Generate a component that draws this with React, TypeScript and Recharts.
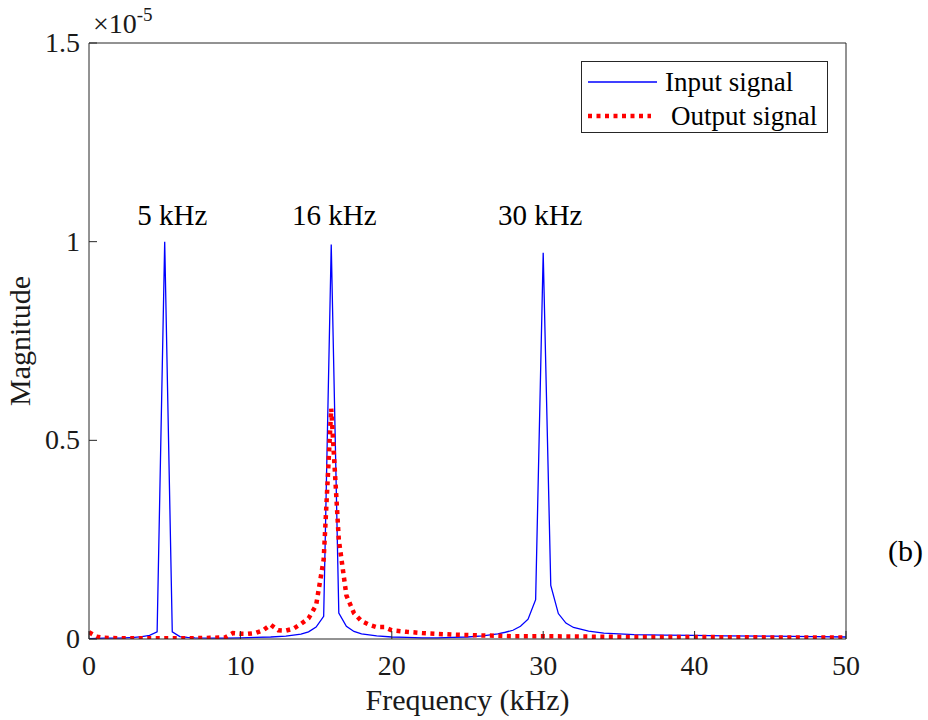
import { createContext, useContext, useState } from "react";
import { createPortal } from "react-dom";
import { LineChart, Line, XAxis, YAxis, ReferenceDot } from "recharts";

// magnitude values are in units of 1e-5
const inputFreq = [
  0, 1, 2, 3, 3.5, 4, 4.5, 5, 5.5, 6, 6.5, 7, 8, 9, 10, 11, 12, 13, 14, 14.5,
  15, 15.5, 16, 16.5, 17, 17.5, 18, 19, 20, 21, 22, 23, 24, 25, 26, 27, 27.5, 28, 28.5, 29,
  29.5, 30, 30.5, 31, 31.5, 32, 33, 34, 35, 36, 38, 40, 42, 45, 48, 50,
];
const inputMag = [
  0.001, 0.002, 0.002, 0.004, 0.006, 0.009, 0.018, 1.0, 0.018, 0.006, 0.004, 0.003, 0.002, 0.002, 0.003, 0.004, 0.005, 0.007, 0.012, 0.018,
  0.03, 0.057, 0.993, 0.065, 0.032, 0.019, 0.013, 0.008, 0.005, 0.004, 0.003, 0.003, 0.004, 0.005, 0.008, 0.013, 0.017, 0.022, 0.032, 0.05,
  0.099, 0.972, 0.135, 0.064, 0.04, 0.029, 0.02, 0.015, 0.013, 0.011, 0.01, 0.009, 0.008, 0.007, 0.006, 0.005,
];

const outputFreq = [
  0, 0.5, 1, 2, 3, 4, 5, 6, 7, 8, 9, 9.5, 10, 10.5, 11, 11.5, 12, 12.5, 13, 13.5,
  14, 14.5, 15, 15.5, 16, 16.5, 17, 17.5, 18, 18.5, 19, 19.5, 20, 21, 22, 23, 24, 25, 26, 27,
  28, 30, 33, 36, 40, 45, 50,
];
const outputMag = [
  0.017, 0.006, 0.003, 0.002, 0.002, 0.002, 0.002, 0.002, 0.002, 0.003, 0.004, 0.015, 0.013, 0.013, 0.015, 0.022, 0.036, 0.022, 0.021, 0.026,
  0.038, 0.052, 0.085, 0.2, 0.58, 0.25, 0.11, 0.065, 0.045, 0.036, 0.03, 0.03, 0.022, 0.018, 0.015, 0.013, 0.011, 0.01, 0.009, 0.008,
  0.007, 0.007, 0.006, 0.005, 0.005, 0.004, 0.004,
];

const seriesNames = ["Input signal", "Output signal"];

const peakLabels = ["5 kHz", "16 kHz", "30 kHz"];
const peakLabelFreq = [5.5, 16.2, 29.8];

const xTicks = [0, 10, 20, 30, 40, 50];
const yTicks = [0, 0.5, 1, 1.5];

const inputData = inputFreq.map((f, i) => ({ f, v: inputMag[i] }));
const outputData = outputFreq.map((f, i) => ({ f, v: outputMag[i] }));

const FONT = "Liberation Serif";
const AXIS = "#262626";
const BLUE = "#0000ff";
const RED = "#ff0000";
const DOTS = "4 4.5";

// chart text goes into an HTML layer over the svg (positions still come from recharts)
const Overlay = createContext<HTMLDivElement | null>(null);

const box = (left: number, top: number, width: number, size: number, lh: number, align: string) => ({
  position: "absolute" as const,
  left,
  top,
  width,
  fontFamily: FONT,
  fontSize: size,
  lineHeight: `${lh}px`,
  textAlign: align as any,
  whiteSpace: "nowrap" as const,
  color: "#1a1a1a",
});

const HtmlText = ({ style, children, fallback }: any) => {
  const host = useContext(Overlay);
  if (!host) return fallback ?? null;
  return createPortal(<div style={style}>{children}</div>, host);
};

const XTick = (props: any) => {
  const { x, y, payload } = props;
  return (
    <HtmlText style={box(x - 40, y - 5, 80, 28, 32, "center")}
      fallback={<text x={x} y={y + 20} textAnchor="middle" fontSize={28}>{String(payload.value)}</text>}>
      {String(payload.value)}
    </HtmlText>
  );
};

const YTick = (props: any) => {
  const { x, y, payload } = props;
  return (
    <HtmlText style={box(x - 70, y - 16, 70, 28, 32, "right")}
      fallback={<text x={x} y={y + 9} textAnchor="end" fontSize={28}>{String(payload.value)}</text>}>
      {String(payload.value)}
    </HtmlText>
  );
};

const XLabel = (props: any) => {
  const vb = props.viewBox;
  return (
    <HtmlText style={box(vb.x, vb.y + 43, vb.width, 30, 36, "center")}>Frequency (kHz)</HtmlText>
  );
};

const YLabel = (props: any) => {
  const vb = props.viewBox;
  const cy = vb.y + vb.height / 2;
  const cx = 20;
  return (
    <>
      <HtmlText style={{ ...box(cx - 100, cy - 20, 200, 30, 40, "center"), transform: "rotate(-90deg)" }}>Magnitude</HtmlText>
      <HtmlText style={box(vb.x + vb.width + 4, vb.y - 35, 90, 28, 32, "left")}>
        ×10<span style={{ fontSize: 19, position: "relative", top: -12 }}>-5</span>
      </HtmlText>
    </>
  );
};

const PeakLabel = (props: any) => {
  const vb = props.viewBox;
  const cx = vb.x + vb.width / 2;
  const cy = vb.y + vb.height / 2;
  return (
    <HtmlText style={{ ...box(cx - 70, cy - 44, 140, 29, 34, "center"), color: "#000" }}>{props.text}</HtmlText>
  );
};

const legendRow = (name: string, color: string, width: number, dash?: string, len = 69) => (
  <div key={name} style={{ display: "flex", alignItems: "center", height: 34 }}>
    <svg width={69} height={10} style={{ marginRight: dash ? 14 : 8 }}>
      <line x1={0} y1={5} x2={len} y2={5} stroke={color} strokeWidth={width} strokeDasharray={dash} />
    </svg>
    <span style={{ lineHeight: "34px" }}>{name}</span>
  </div>
);

export default function App() {
  const [host, setHost] = useState<HTMLDivElement | null>(null);
  return (
    <Overlay.Provider value={host}>
      <div style={{ position: "absolute", left: 0, top: 0, width: 928, height: 720, background: "#fff" }}>
        <LineChart width={928} height={720} margin={{ top: 42, right: 81, bottom: 41, left: 0 }}>
          <XAxis
            type="number"
            dataKey="f"
            domain={[0, 50]}
            ticks={xTicks}
            allowDataOverflow
            height={40}
            stroke={AXIS}
            tickLine={{ stroke: AXIS }}
            tickSize={-8}
            tickMargin={24}
            tick={<XTick />}
            label={{ content: <XLabel /> }}
          />
          <XAxis
            xAxisId="top"
            orientation="top"
            type="number"
            dataKey="f"
            domain={[0, 50]}
            ticks={xTicks}
            allowDataOverflow
            height={1}
            stroke={AXIS}
            tickLine={{ stroke: AXIS }}
            tickSize={-8}
            tick={false}
          />
          <YAxis
            type="number"
            domain={[0, 1.5]}
            ticks={yTicks}
            allowDataOverflow
            width={89}
            stroke={AXIS}
            tickLine={{ stroke: AXIS }}
            tickSize={-8}
            tickMargin={17}
            tick={<YTick />}
            label={{ content: <YLabel /> }}
          />
          <YAxis
            yAxisId="right"
            orientation="right"
            type="number"
            domain={[0, 1.5]}
            ticks={yTicks}
            allowDataOverflow
            width={1}
            stroke={AXIS}
            tickLine={{ stroke: AXIS }}
            tickSize={-8}
            tick={false}
          />
          {/* invisible series so the top/right frame axes get drawn */}
          <Line
            data={inputData}
            dataKey="v"
            xAxisId="top"
            yAxisId="right"
            stroke="none"
            dot={false}
            activeDot={false}
            isAnimationActive={false}
          />
          <Line
            data={inputData}
            dataKey="v"
            name={seriesNames[0]}
            type="linear"
            stroke={BLUE}
            strokeWidth={1.3}
            dot={false}
            activeDot={false}
            isAnimationActive={false}
          />
          <Line
            data={outputData}
            dataKey="v"
            name={seriesNames[1]}
            type="linear"
            stroke={RED}
            strokeWidth={4.5}
            strokeDasharray={DOTS}
            dot={false}
            activeDot={false}
            isAnimationActive={false}
          />
          {peakLabels.map((t, i) => (
            <ReferenceDot
              key={t}
              x={peakLabelFreq[i]}
              y={1}
              r={1}
              fill="none"
              stroke="none"
              ifOverflow="visible"
              label={{ content: <PeakLabel text={t} /> }}
            />
          ))}
        </LineChart>
        <div ref={setHost} style={{ position: "absolute", left: 0, top: 0, width: 928, height: 720, pointerEvents: "none" }} />
        <div
          style={{
            position: "absolute",
            left: 581,
            top: 61,
            width: 247,
            height: 72,
            boxSizing: "border-box",
            border: `1px solid ${AXIS}`,
            background: "#fff",
            paddingTop: 3,
            paddingLeft: 6,
            fontFamily: FONT,
            fontSize: 27,
            color: "#000",
          }}
        >
          {legendRow(seriesNames[0], BLUE, 1.5)}
          {legendRow(seriesNames[1], RED, 4.5, DOTS, 63)}
        </div>
        <div style={{ position: "absolute", left: 888, top: 534, fontFamily: FONT, fontSize: 30, color: "#000" }}>(b)</div>
      </div>
    </Overlay.Provider>
  );
}
